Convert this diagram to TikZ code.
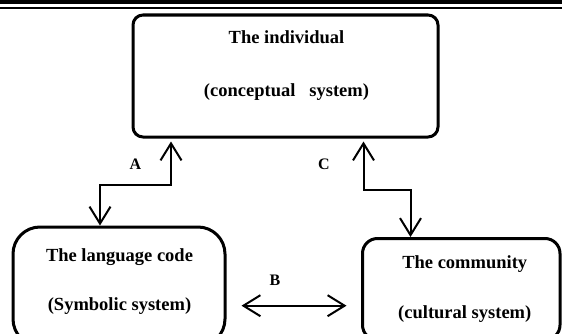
\documentclass[tikz,border=0pt]{standalone}
\usepackage{fontspec}
\setmainfont{Liberation Serif}
\usetikzlibrary{arrows.meta}
\tikzset{
  sysbox/.style={draw, line width=3pt, inner sep=0pt},
  boxtext/.style={font=\fontsize{18.5}{22}\selectfont\bfseries, anchor=base, inner sep=0pt},
  tag/.style={font=\fontsize{16}{19}\selectfont\bfseries, anchor=base, inner sep=0pt},
  link/.style={line width=2pt, {Straight Barb[length=17pt,width=21pt]}-{Straight Barb[length=17pt,width=21pt]}}
}

\begin{document}
\begin{tikzpicture}[x=1pt,y=1pt]
				\useasboundingbox (0,0) rectangle (562,333);
				\clip (0,0) rectangle (562,333);
				% rules at the top of the page
				\fill (0,328.5) rectangle (562,333);
				\fill (0,323.5) rectangle (562,325.5);
				% the three systems
				\node[sysbox, rounded corners=10pt, minimum width=305pt, minimum height=122pt] (indiv) at (285.5,257) {};
				\node[sysbox, rounded corners=27pt, minimum width=212pt, minimum height=119pt] (lang) at (119,46.5) {};
				\node[sysbox, rounded corners=15pt, minimum width=197.5pt, minimum height=101.5pt] (comm) at (461.25,43.75) {};
				\node[boxtext] (indivname) at ([xshift=1pt,yshift=-30pt]indiv.north) {The individual};
				\node[boxtext] (indivsys) at ([xshift=1pt,yshift=-83pt]indiv.north) {(conceptual\hspace{14pt}system)};
				\node[boxtext] (langname) at ([xshift=0.5pt,yshift=-36pt]lang.north) {The language code};
				\node[boxtext] (langsys) at ([xshift=0.5pt,yshift=-85pt]lang.north) {(Symbolic system)};
				\node[boxtext] (commname) at ([xshift=3.5pt,yshift=-31.5pt]comm.north) {The community};
				\node[boxtext] (commsys) at ([xshift=3.5pt,yshift=-81.5pt]comm.north) {(cultural system)};
				% links between them
				\draw[link, shorten <=3pt] ([xshift=39.5pt]indiv.south west) -- ++(0,-46) -| ([xshift=-19pt]lang.north);
				\draw[link, shorten <=3pt] ([xshift=-76pt]indiv.south east) -- ++(0,-51) -| ([xshift=49.5pt]comm.north west);
				\draw[link, shorten <=15pt, shorten >=14.5pt] ([yshift=-19.2pt]lang.east) -- ([yshift=-19.2pt]lang.east -| comm.west);
				\node[tag] (taga) at ([xshift=4pt,yshift=-31pt]indiv.south west) {A};
				\node[tag] (tagc) at ([xshift=-115.5pt,yshift=-31pt]indiv.south east) {C};
				\node[tag] (tagb) at ([xshift=48.5pt,yshift=1.5pt]lang.east) {B};
			\end{tikzpicture}
\end{document}
